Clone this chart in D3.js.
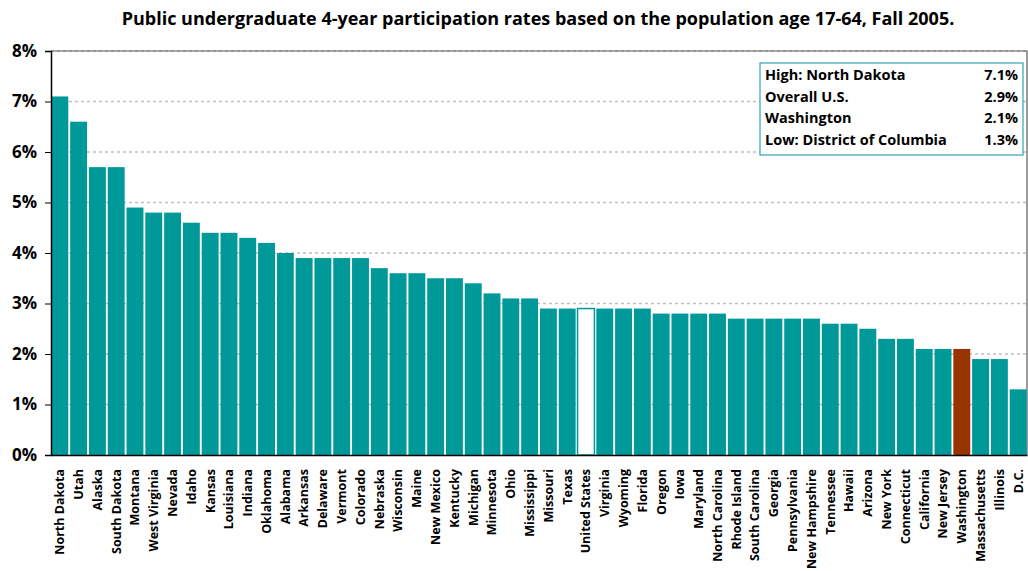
<!DOCTYPE html>
<html>
<head>
<meta charset="utf-8">
<script src="https://cdn.jsdelivr.net/npm/d3@7"></script>
<style>
  body { margin: 0; background: #fff; }
  text { font-family: "Open Sans", sans-serif; font-weight: bold; fill: #000; }
</style>
</head>
<body>
<div id="chart"></div>
<script>
// data
var states = ["North Dakota", "Utah", "Alaska", "South Dakota", "Montana", "West Virginia", "Nevada",
  "Idaho", "Kansas", "Louisiana", "Indiana", "Oklahoma", "Alabama", "Arkansas", "Delaware", "Vermont",
  "Colorado", "Nebraska", "Wisconsin", "Maine", "New Mexico", "Kentucky", "Michigan", "Minnesota",
  "Ohio", "Mississippi", "Missouri", "Texas", "United States", "Virginia", "Wyoming", "Florida",
  "Oregon", "Iowa", "Maryland", "North Carolina", "Rhode Island", "South Carolina", "Georgia",
  "Pennsylvania", "New Hampshire", "Tennessee", "Hawaii", "Arizona", "New York", "Connecticut",
  "California", "New Jersey", "Washington", "Massachusetts", "Illinois", "D.C."];
var rates = [7.1, 6.6, 5.7, 5.7, 4.9, 4.8, 4.8, 4.6, 4.4, 4.4, 4.3, 4.2, 4.0, 3.9, 3.9, 3.9,
  3.9, 3.7, 3.6, 3.6, 3.5, 3.5, 3.4, 3.2, 3.1, 3.1, 2.9, 2.9, 2.9, 2.9, 2.9, 2.9,
  2.8, 2.8, 2.8, 2.8, 2.7, 2.7, 2.7, 2.7, 2.7, 2.6, 2.6, 2.5, 2.3, 2.3,
  2.1, 2.1, 2.1, 1.9, 1.9, 1.3];
var yTicks = [0, 1, 2, 3, 4, 5, 6, 7, 8];
var legendLabels = ["High: North Dakota", "Overall U.S.", "Washington", "Low: District of Columbia"];
var legendValues = ["7.1%", "2.9%", "2.1%", "1.3%"];
var title = "Public undergraduate 4-year participation rates based on the population age 17-64, Fall 2005.";

var svgWidth = 1028, svgHeight = 571;
var margin = { top: 51, right: 1, bottom: 116, left: 51 };
var width = svgWidth - margin.left - margin.right;
var height = svgHeight - margin.top - margin.bottom;

var teal = "#009999";

var svg = d3.select("#chart").append("svg")
  .attr("width", svgWidth)
  .attr("height", svgHeight);

svg.append("text")
  .attr("x", 538)
  .attr("y", 25)
  .attr("text-anchor", "middle")
  .attr("font-size", "18px")
  .text(title);

var chartGroup = svg.append("g")
  .attr("transform", `translate(${margin.left}, ${margin.top})`);

var x = d3.scaleBand()
  .domain(states)
  .range([0, width])
  .paddingInner(0.1)
  .paddingOuter(0.02);

var y = d3.scaleLinear()
  .domain([0, 8])
  .range([height, 0]);

// dotted gridlines
chartGroup.append("g")
  .selectAll("line")
  .data(yTicks.filter(d => d > 0))
  .enter().append("line")
  .attr("x1", 0)
  .attr("x2", width)
  .attr("y1", d => y(d))
  .attr("y2", d => y(d))
  .attr("stroke", "#bfbfbf")
  .attr("stroke-width", 1.5)
  .attr("stroke-dasharray", "3,3");

// frame on top and right
chartGroup.append("path")
  .attr("d", `M0,${y(8)}H${width}V${height}`)
  .attr("fill", "none")
  .attr("stroke", "#595959")
  .attr("stroke-width", 1.2);

// bars
chartGroup.selectAll(".bar")
  .data(states)
  .enter().append("rect")
  .attr("class", "bar")
  .attr("x", d => x(d))
  .attr("width", x.bandwidth())
  .attr("y", (d, i) => y(rates[i]))
  .attr("height", (d, i) => height - y(rates[i]))
  .attr("fill", d => d == "United States" ? "#fff" : (d == "Washington" ? "#993300" : teal))
  .attr("stroke", d => d == "United States" ? teal : "none")
  .attr("stroke-width", 1.5);

// y axis
var leftAxis = d3.axisLeft(y)
  .tickValues(yTicks)
  .tickFormat(d => d + "%")
  .tickSize(6)
  .tickPadding(8);

var yAxis = chartGroup.append("g").call(leftAxis);
yAxis.select(".domain").attr("stroke", "#000").attr("stroke-width", 1.5);
yAxis.selectAll(".tick line").attr("stroke", "#000");
yAxis.selectAll(".tick text")
  .attr("font-size", "17px")
  .attr("font-family", "Open Sans")
  .attr("font-weight", "bold");

// x axis
var bottomAxis = d3.axisBottom(x).tickSize(0).tickSizeOuter(0).tickPadding(0);
var xAxis = chartGroup.append("g")
  .attr("transform", `translate(0, ${height})`)
  .call(bottomAxis);
xAxis.select(".domain").attr("stroke", "#000").attr("stroke-width", 1.5);
xAxis.selectAll(".tick text")
  .attr("font-size", "12.5px")
  .attr("font-family", "Open Sans")
  .attr("font-weight", "bold")
  .attr("transform", "rotate(-90)")
  .attr("text-anchor", "end")
  .attr("x", -14)
  .attr("y", 0)
  .attr("dy", "0.35em");

// legend box
var legend = svg.append("g").attr("transform", "translate(760, 63)");
legend.append("rect")
  .attr("width", 263)
  .attr("height", 92)
  .attr("fill", "#fff")
  .attr("stroke", "#31a5b5")
  .attr("stroke-width", 1.2);

legend.selectAll(".lab")
  .data(legendLabels)
  .enter().append("text")
  .attr("class", "lab")
  .attr("x", 5)
  .attr("y", (d, i) => 17 + i * 21.5)
  .attr("font-size", "14.5px")
  .text(d => d);

legend.selectAll(".val")
  .data(legendValues)
  .enter().append("text")
  .attr("class", "val")
  .attr("x", 258)
  .attr("y", (d, i) => 17 + i * 21.5)
  .attr("text-anchor", "end")
  .attr("font-size", "14.5px")
  .text(d => d);
</script>
</body>
</html>
